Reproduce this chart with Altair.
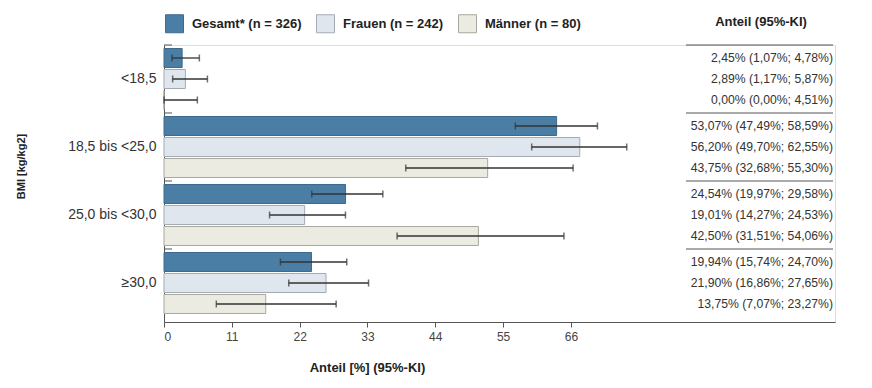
import altair as alt
import pandas as pd

categories = ["<18,5", "18,5 bis <25,0", "25,0 bis <30,0", "≥30,0"]
groups = ["Gesamt* (n = 326)", "Frauen (n = 242)", "Männer (n = 80)"]
share = [
    [2.45, 53.07, 24.54, 19.94],
    [2.89, 56.20, 19.01, 21.90],
    [0.00, 43.75, 42.50, 13.75],
]
ci_low = [
    [1.07, 47.49, 19.97, 15.74],
    [1.17, 49.70, 14.27, 16.86],
    [0.00, 32.68, 31.51, 7.07],
]
ci_high = [
    [4.78, 58.59, 29.58, 24.70],
    [5.87, 62.55, 24.53, 27.65],
    [4.51, 55.30, 54.06, 23.27],
]
fills = ["#4b7ea5", "#dfe6ee", "#ecebe1"]
strokes = ["#3e6a8c", "#a3abb4", "#a8a89e"]
tick_labels = [0, 11, 22, 33, 44, 55, 66]

FONT = "Liberation Sans"


def de(v):
    return f"{v:.2f}".replace(".", ",") + "%"


rows = []
for gi, g in enumerate(groups):
    for ci, c in enumerate(categories):
        v, lo, hi = share[gi][ci], ci_low[gi][ci], ci_high[gi][ci]
        rows.append({"cat": c, "grp": g, "v": v, "lo": lo, "hi": hi,
                     "label": f"{de(v)} ({de(lo)}; {de(hi)})"})
df = pd.DataFrame(rows)
cat_df = pd.DataFrame({"cat": categories})

W, H = 671, 277
XMAX = 90.7

y_enc = alt.Y("cat:N", sort=categories,
              scale=alt.Scale(paddingInner=0, paddingOuter=0.0368, align=0),
              axis=alt.Axis(title="BMI [kg/kg2]", titleFont=FONT, titleFontSize=11,
                            titleFontWeight="bold", titleColor="#222",
                            titleAngle=-90, titleX=-143, titleY=121,
                            titleAlign="center", titleBaseline="middle",
                            labelFont=FONT, labelFontSize=14, labelColor="#333",
                            labelPadding=8, ticks=False, tickSize=0,
                            domainColor="#555", domainWidth=1))
yoff = alt.YOffset("grp:N", sort=groups,
                   scale=alt.Scale(paddingInner=0.0952, paddingOuter=0.1667))

x_scale = alt.Scale(domain=[0, XMAX], nice=False, zero=True)
x_axis = alt.Axis(title="Anteil [%] (95%-KI)", titleFont=FONT, titleFontSize=13,
                  titleFontWeight="bold", titleColor="#222",
                  titleX=203, titleY=45, titleAlign="center", titleBaseline="middle",
                  values=[t * 55 / 66 for t in tick_labels],
                  labelExpr="format(datum.value*66/55, '.0f')",
                  labelFont=FONT, labelFontSize=12, labelColor="#444",
                  labelPadding=4, tickSize=5, tickColor="#555",
                  domainColor="#555", domainWidth=1, grid=False)

legend = alt.Legend(title=None, orient="none", legendX=1, legendY=-31,
                    direction="horizontal", columns=3,
                    symbolType="square", symbolSize=324, symbolStrokeWidth=1,
                    labelFont=FONT, labelFontSize=13, labelFontWeight="bold",
                    labelColor="#222", labelOffset=8, columnPadding=12,
                    gridAlign="each")

base = alt.Chart(df)

bars = base.mark_bar(strokeWidth=1).encode(
    x=alt.X("v:Q", scale=x_scale, axis=x_axis),
    y=y_enc,
    yOffset=yoff,
    fill=alt.Fill("grp:N", sort=groups,
                  scale=alt.Scale(domain=groups, range=fills), legend=legend),
    stroke=alt.Stroke("grp:N", sort=groups,
                      scale=alt.Scale(domain=groups, range=strokes), legend=legend),
)

err = base.mark_rule(color="#333", strokeWidth=1.3).encode(
    x="lo:Q", x2="hi:Q", y=alt.Y("cat:N", sort=categories), yOffset=yoff)
cap_lo = base.mark_tick(color="#333", thickness=1.5, size=7).encode(
    x="lo:Q", y=alt.Y("cat:N", sort=categories), yOffset=yoff)
cap_hi = base.mark_tick(color="#333", thickness=1.5, size=7).encode(
    x="hi:Q", y=alt.Y("cat:N", sort=categories), yOffset=yoff)

table = base.mark_text(font=FONT, fontSize=12.2, color="#333", align="right",
                       baseline="middle").encode(
    x=alt.value(669), y=alt.Y("cat:N", sort=categories), yOffset=yoff,
    text="label:N")

yticks = alt.Chart(cat_df).mark_rule(color="#555", strokeWidth=1).encode(
    y=alt.Y("cat:N", sort=categories, bandPosition=0),
    x=alt.value(0), x2=alt.value(8))

seps = alt.Chart(cat_df).mark_rule(color="#555", strokeWidth=1.2).encode(
    y=alt.Y("cat:N", sort=categories, bandPosition=0),
    x=alt.value(522), x2=alt.value(669))

header = alt.Chart(pd.DataFrame({"t": ["Anteil (95%-KI)"]})).mark_text(
    font=FONT, fontSize=13, fontWeight="bold", color="#222",
    align="center", baseline="middle").encode(
    x=alt.value(597), y=alt.value(-23), text="t:N")

chart = alt.layer(bars, err, cap_lo, cap_hi, table, yticks, seps, header).properties(
    width=W, height=H,
    padding={"left": 156, "top": 37, "right": 25, "bottom": 56},
    autosize=alt.AutoSizeParams(type="none"),
).configure_view(stroke=None).configure(font=FONT)

chart.save("out.html", embed_options={"renderer": "svg", "actions": False})
